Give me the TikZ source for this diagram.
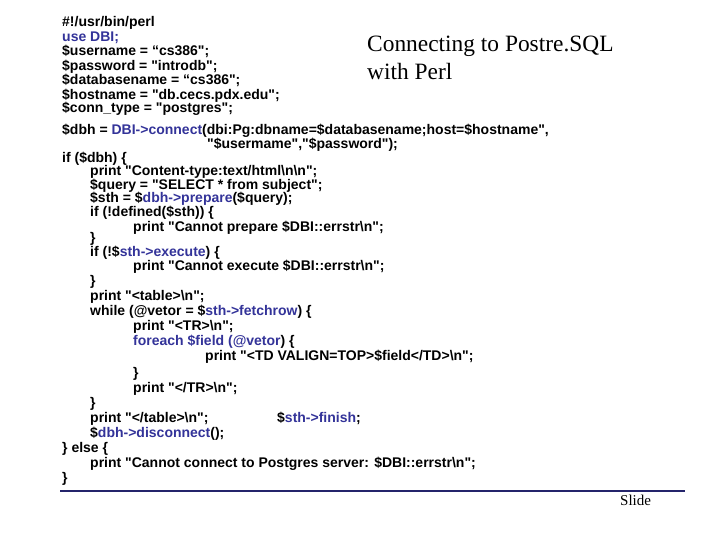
\documentclass[tikz,border=0pt]{standalone}
\usepackage{fontspec}
\setmainfont{Liberation Serif}
\newfontfamily\codefont{Liberation Sans}[BoldFont={* Bold}]
\definecolor{kw}{HTML}{333399}
\newcommand{\B}[1]{\textcolor{kw}{#1}}
\begin{document}
\begin{tikzpicture}[x=1pt,y=-1pt,
  code/.style={anchor=base west,inner sep=0pt,font=\codefont\bfseries\fontsize{14}{15}\selectfont}]
\useasboundingbox (0,0) rectangle (720,540);
\fill[white] (0,0) rectangle (720,540);
\node[code] (l1) at (62,27) {\#!/usr/bin/perl};
\node[code] (l2) at (62,41.5) {\B{use DBI;}};
\node[code] (l3) at (62,56) {\$username = “cs386";};
\node[code] (l4) at (62,70.5) {\$password = "introdb";};
\node[code] (l5) at (62,85) {\$databasename = “cs386";};
\node[code] (l6) at (62,99.5) {\$hostname = "db.cecs.pdx.edu";};
\node[code] (l7) at (62,113) {\$conn\_type = "postgres";};
\node[anchor=base west,inner sep=0pt,font=\fontsize{23.4}{26}\selectfont] (t1) at (367,52) {Connecting to Postre.SQL};
\node[anchor=base west,inner sep=0pt,font=\fontsize{23.4}{26}\selectfont] (t2) at (367,80) {with Perl};
\node[code] (m1) at (62,135) {\$dbh = \B{DBI->connect}(dbi:Pg:dbname=\$databasename;host=\$hostname",};
\node[code] (m2) at (207,149) {"\$usermame","\$password");};
\node[code] (m3) at (62,163) {if (\$dbh) \{};
\node[code] (m4) at (90,176) {print "Content-type:text/html\textbackslash n\textbackslash n";};
\node[code] (m5) at (90,189.5) {\$query = "SELECT * from subject";};
\node[code] (m6) at (90,203) {\$sth = \$\B{dbh->prepare}(\$query);};
\node[code] (m7) at (90,217) {if (!defined(\$sth)) \{};
\node[code] (m8) at (133,231) {print "Cannot prepare \$DBI::errstr\textbackslash n";};
\node[code] (m9) at (90,243) {\}};
\node[code] (m10) at (90,256) {if (!\$\B{sth->execute}) \{};
\node[code] (m11) at (133,270) {print "Cannot execute \$DBI::errstr\textbackslash n";};
\node[code] (m12) at (90,285) {\}};
\node[code] (m13) at (90,300) {print "<table>\textbackslash n";};
\node[code] (m14) at (90,315) {while (@vetor = \$\B{sth->fetchrow}) \{};
\node[code] (m15) at (133,330) {print "<TR>\textbackslash n";};
\node[code] (m16) at (133,345) {\B{foreach \$field (@vetor}) \{};
\node[code] (m17) at (205,360) {print "<TD VALIGN=TOP>\$field</TD>\textbackslash n";};
\node[code] (m18) at (133,377) {\}};
\node[code] (m19) at (133,392) {print "</TR>\textbackslash n";};
\node[code] (m20) at (90,407) {\}};
\node[code] (m21) at (90,422) {print "</table>\textbackslash n";};
\node[code] (m22) at (277,422) {\$\B{sth->finish};};
\node[code] (m23) at (90,437) {\$\B{dbh->disconnect}();};
\node[code] (m24) at (62,452) {\} else \{};
\node[code] (m25) at (90,467) {print "Cannot connect to Postgres server: \$DBI::errstr\textbackslash n";};
\node[code] (m26) at (62,482) {\}};
\coordinate (ra) at (60,491);
\coordinate (rb) at (685,491);
\draw[line width=1.2pt,kw!70!black] (ra) -- (rb);
\node[anchor=base west,inner sep=0pt,font=\fontsize{15}{18}\selectfont] (s) at (620,505) {Slide};
\end{tikzpicture}
\end{document}
